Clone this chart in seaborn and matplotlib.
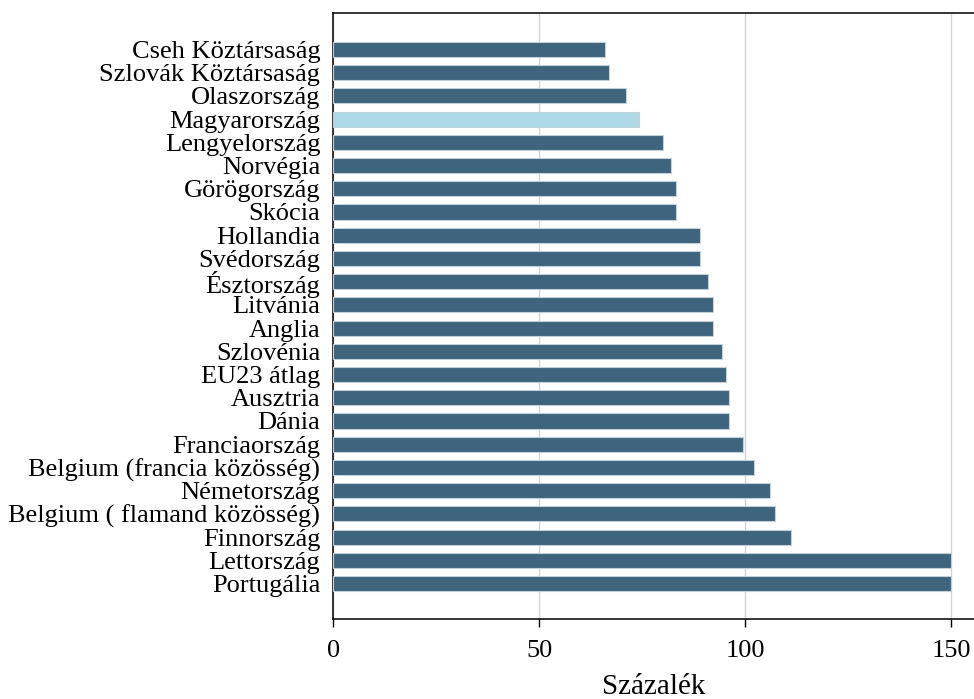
import pandas as pd
import seaborn as sns
import matplotlib.pyplot as plt

countries = ["Cseh Köztársaság", "Szlovák Köztársaság", "Olaszország", "Magyarország",
             "Lengyelország", "Norvégia", "Görögország", "Skócia", "Hollandia",
             "Svédország", "Észtország", "Litvánia", "Anglia", "Szlovénia", "EU23 átlag",
             "Ausztria", "Dánia", "Franciaország", "Belgium (francia közösség)",
             "Németország", "Belgium ( flamand közösség)", "Finnország", "Lettország",
             "Portugália"]
values = [66, 67, 71, 74.2, 80, 82, 83.2, 83.2, 89.1, 89.1, 91, 92.2, 92.2, 94.2, 95.2,
          96, 96, 99.3, 102, 106, 107.3, 111, 150, 150]
highlight = "Magyarország"

df = pd.DataFrame({"orszag": countries, "ertek": values})
palette = {c: ("#add8e6" if c == highlight else "#3f647e") for c in countries}

sns.set_style("white")
plt.rcParams['font.family'] = ['Liberation Serif', 'DejaVu Serif']
plt.rcParams['text.color'] = 'black'
plt.rcParams['xtick.color'] = 'black'
plt.rcParams['ytick.color'] = 'black'
plt.rcParams['axes.labelcolor'] = 'black'

fig = plt.figure(figsize=(9.74, 6.99), dpi=100)
ax = fig.add_axes([0.3424, 0.1144, 0.6576, 0.8670])

sns.barplot(data=df, x="ertek", y="orszag", hue="orszag", palette=palette,
            legend=False, width=0.65, edgecolor="#c3d0da", linewidth=0.8,
            saturation=1, ax=ax, zorder=3)

ax.set_xlim(0, 155.5)
ax.set_ylim(24.53, -1.57)
ax.set_xticks([0, 50, 100, 150])
ax.grid(axis="x", color="#d4d4d4", linewidth=1, zorder=0)
ax.set_axisbelow(True)

for s in ["left", "bottom", "top"]:
    ax.spines[s].set_color("black")
    ax.spines[s].set_linewidth(1.1)
ax.spines["right"].set_visible(False)

ax.tick_params(axis="x", bottom=True, length=6, width=1, labelsize=19, pad=9)
ax.tick_params(axis="y", left=False, labelsize=19, pad=6)
ax.set_xlabel("Százalék", fontsize=21, labelpad=9)
ax.set_ylabel("")

fig.savefig("out.png", dpi=100)
